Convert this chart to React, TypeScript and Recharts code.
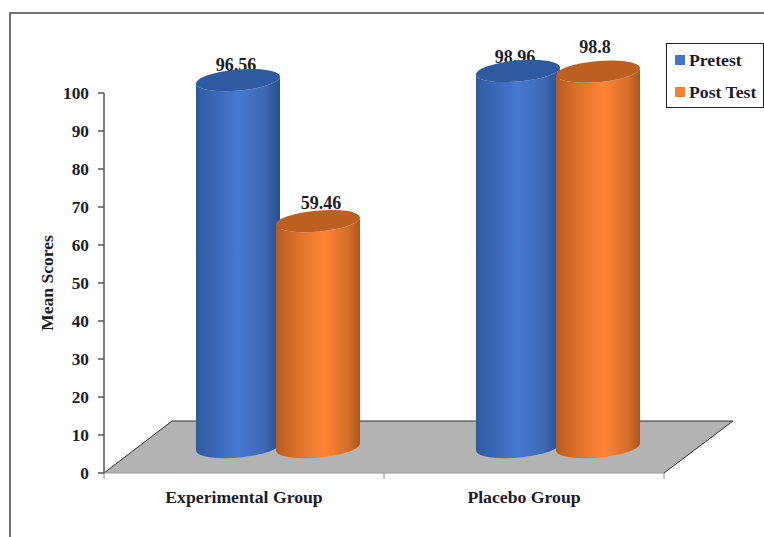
import React from 'react';
import { BarChart, Bar, XAxis, YAxis, Legend, usePlotArea } from 'recharts';

const groups = ['Experimental Group', 'Placebo Group'];
const pretest = [96.56, 98.96];
const postTest = [59.46, 98.8];
const yTicks = [0, 10, 20, 30, 40, 50, 60, 70, 80, 90, 100];

const rows = groups.map((group, i) => ({ group, pretest: pretest[i], postTest: postTest[i] }));

const FONT = '"Liberation Serif", serif';
const INK = '#1c1c2a';
const AXIS = '#555555';

// The cylinders stand halfway back on the floor, so they are shifted by half its depth.
const DEPTH_X = 34;
const DEPTH_Y = 26;
const FLOOR_DX = 68;
const FLOOR_DY = 52;

// Tilted elliptical ends of each cylinder.
const RY = 10.5;
const TILT = -5;
const TILT_RISE = 4;

// Hand placement of each value label relative to the cylinder's top centre.
const labelNudge: Record<string, [number, number]> = {
  '96.56': [-2, 9],
  '98.96': [-3, 8],
  '98.8': [-3, 19],
  '59.46': [3, 12],
};

function Cylinder(props: any) {
  const { x, y, width, height, value, gradient, capColor } = props;
  const rx = width / 2;
  const cx = x + rx + DEPTH_X;
  const top = y - DEPTH_Y;
  const bottom = y + height - DEPTH_Y;
  const left = cx - rx;
  const right = cx + rx;
  const [nudgeX, nudgeY] = labelNudge[String(value)] ?? [0, 10];
  const body =
    `M${left},${top + TILT_RISE} L${left},${bottom + TILT_RISE} ` +
    `A${rx},${RY} ${TILT} 0 0 ${right},${bottom - TILT_RISE} ` +
    `L${right},${top - TILT_RISE} ` +
    `A${rx},${RY} ${TILT} 0 1 ${left},${top + TILT_RISE} Z`;
  const cap =
    `M${left},${top + TILT_RISE} A${rx},${RY} ${TILT} 1 1 ${right},${top - TILT_RISE} ` +
    `A${rx},${RY} ${TILT} 1 1 ${left},${top + TILT_RISE} Z`;
  return (
    <g>
      <text
        x={cx + nudgeX}
        y={top - nudgeY}
        textAnchor="middle"
        fontFamily={FONT}
        fontWeight={700}
        fontSize={18}
        fill={INK}
      >
        {value}
      </text>
      <path d={body} fill={`url(#${gradient})`} />
      <path d={cap} fill={capColor} />
    </g>
  );
}

function Backdrop() {
  const area = usePlotArea();
  if (!area) return null;
  const { x, y, width, height } = area;
  const base = y + height;
  const end = x + width;
  return (
    <g>
      <defs>
        <linearGradient id="blueBody" x1="0" y1="0" x2="1" y2="0">
          <stop offset="0" stopColor="#2f5a9e" />
          <stop offset="0.22" stopColor="#3a68b6" />
          <stop offset="0.5" stopColor="#4778d0" />
          <stop offset="0.8" stopColor="#3f69b6" />
          <stop offset="1" stopColor="#2b4f8c" />
        </linearGradient>
        <linearGradient id="orangeBody" x1="0" y1="0" x2="1" y2="0">
          <stop offset="0" stopColor="#b55c20" />
          <stop offset="0.25" stopColor="#dc7029" />
          <stop offset="0.58" stopColor="#ff8534" />
          <stop offset="0.85" stopColor="#d66f2a" />
          <stop offset="1" stopColor="#a9561d" />
        </linearGradient>
      </defs>
      <rect x={10} y={13} width={800} height={600} fill="none" stroke="#444444" strokeWidth={1.5} />
      <polygon
        points={`${x},${base} ${x + FLOOR_DX},${base - FLOOR_DY} ${end + FLOOR_DX + 1},${base - FLOOR_DY} ${end},${base}`}
        fill="#b3b3b3"
      />
      <path
        d={`M${x},${base} L${x + FLOOR_DX},${base - FLOOR_DY} L${end + FLOOR_DX + 1},${base - FLOOR_DY} L${end},${base}`}
        fill="none"
        stroke="#2e2e2e"
        strokeWidth={1}
      />
      {[x, x + width / 2, end].map((tx) => (
        <line key={tx} x1={tx} x2={tx} y1={base} y2={base + 6} stroke="#888888" strokeWidth={1} />
      ))}
    </g>
  );
}

function LegendBox({ payload }: any) {
  return (
    <div
      style={{
        boxSizing: 'border-box',
        width: 98,
        height: 65,
        border: '1.5px solid #222222',
        background: '#ffffff',
        padding: '0 0 0 8px',
        fontFamily: FONT,
        fontWeight: 700,
        fontSize: 17.7,
        color: INK,
      }}
    >
      {(payload ?? []).map((item: any) => (
        <div key={item.value} style={{ display: 'flex', alignItems: 'center', height: 32, whiteSpace: 'nowrap' }}>
          <span style={{ width: 10, height: 10, marginRight: 4, background: item.color, display: 'inline-block' }} />
          {item.value}
        </div>
      ))}
    </div>
  );
}

export default function App() {
  return (
    <div style={{ position: 'absolute', left: 0, top: 0, width: 764, height: 537, background: '#fff', overflow: 'hidden' }}>
      <BarChart
        width={764}
        height={537}
        data={rows}
        margin={{ top: 93, right: 100, bottom: 34, left: 0 }}
        barSize={84}
        barGap={-4}
      >
        <Backdrop />
        <XAxis
          dataKey="group"
          axisLine={{ stroke: '#9a9a9a', strokeWidth: 1 }}
          tickLine={false}
          tick={{ fontFamily: FONT, fontWeight: 700, fontSize: 17.7, fill: INK }}
          tickMargin={11}
          interval={0}
        />
        <YAxis
          width={104}
          domain={[0, 100]}
          ticks={yTicks}
          axisLine={{ stroke: AXIS, strokeWidth: 1.5 }}
          tickLine={{ stroke: AXIS, strokeWidth: 1.5 }}
          tickSize={6}
          tickMargin={9}
          tick={{ fontFamily: FONT, fontWeight: 700, fontSize: 17.3, fill: INK }}
          label={{
            value: 'Mean Scores',
            angle: -90,
            position: 'insideLeft',
            offset: 0,
            dx: 47,
            dy: 0,
            style: { fontFamily: FONT, fontWeight: 700, fontSize: 17.5, fill: INK, textAnchor: 'middle' },
          }}
        />
        <Legend
          layout="vertical"
          align="center"
          verticalAlign="middle"
          itemSorter={null}
          wrapperStyle={{ left: 666, top: 43, width: 98, height: 65, right: 'auto', bottom: 'auto', margin: 0 }}
          content={<LegendBox />}
        />
        <Bar
          dataKey="pretest"
          name="Pretest"
          fill="#4575c8"
          isAnimationActive={false}
          shape={(p: any) => <Cylinder {...p} gradient="blueBody" capColor="#2d5aa0" />}
        />
        <Bar
          dataKey="postTest"
          name="Post Test"
          fill="#f58233"
          isAnimationActive={false}
          shape={(p: any) => <Cylinder {...p} gradient="orangeBody" capColor="#bd5f20" />}
        />
      </BarChart>
    </div>
  );
}
